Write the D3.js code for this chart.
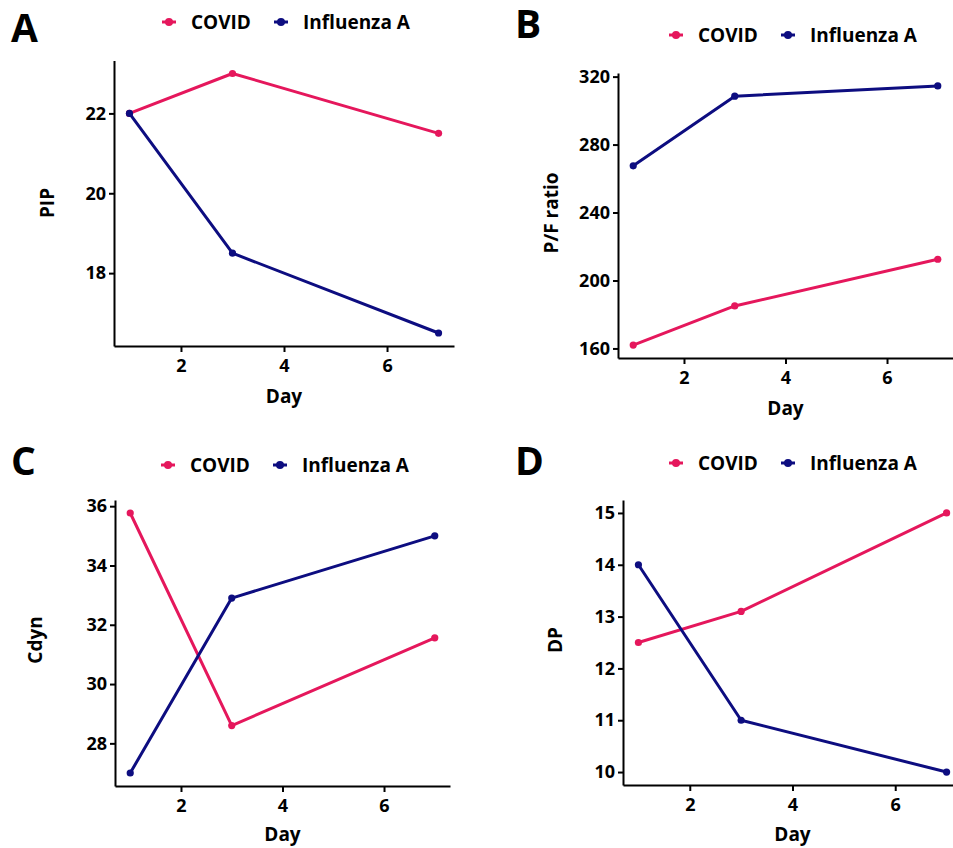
<!DOCTYPE html>
<html>
<head>
<meta charset="utf-8">
<script src="https://cdn.jsdelivr.net/npm/d3@7"></script>
<style>
  html, body { margin: 0; padding: 0; background: #fff; }
  svg { display: block; font-family: "Open Sans", Lato, sans-serif; }
</style>
</head>
<body>
<svg id="chart" width="953" height="848"></svg>
<script>
// ---------- data ----------
const days = [1, 3, 7];
const seriesNames = ["COVID", "Influenza A"];
const seriesColors = ["#E5175C", "#0D0D80"];

const pipCovid = [22.0, 23.0, 21.5];
const pipFlu   = [22.0, 18.5, 16.5];

const pfCovid = [162, 185, 212.5];
const pfFlu   = [267.5, 308.5, 314.5];

const cdynCovid = [35.77, 28.6, 31.56];
const cdynFlu   = [27.0, 32.9, 35.0];

const dpCovid = [12.5, 13.1, 15.0];
const dpFlu   = [14.0, 11.0, 10.0];

const xTicks = [2, 4, 6];
const pipTicks = [18, 20, 22];
const pfTicks = [160, 200, 240, 280, 320];
const cdynTicks = [28, 30, 32, 34, 36];
const dpTicks = [10, 11, 12, 13, 14, 15];

const panelLetters = ["A", "B", "C", "D"];
const yTitles = ["PIP", "P/F ratio", "Cdyn", "DP"];
const xTitle = "Day";

// ---------- layout (pixel boxes) ----------
const panels = [
  { letter: panelLetters[0], yTitle: yTitles[0], series: [pipCovid, pipFlu], ticks: pipTicks,
    x0: 114, x1: 454, yBot: 346, yTop: 60.5,
    letterX: 11, letterY: 42, legX: 169, legY: 22, yTitleX: 47, yTitleY: 203, xTitleY: 403 },
  { letter: panelLetters[1], yTitle: yTitles[1], series: [pfCovid, pfFlu], ticks: pfTicks,
    x0: 618, x1: 953, yBot: 358, yTop: 73,
    letterX: 515, letterY: 38, legX: 676, legY: 35, yTitleX: 551, yTitleY: 213, xTitleY: 415 },
  { letter: panelLetters[2], yTitle: yTitles[2], series: [cdynCovid, cdynFlu], ticks: cdynTicks,
    x0: 115, x1: 450, yBot: 786, yTop: 500,
    letterX: 11, letterY: 475, legX: 168, legY: 465, yTitleX: 35, yTitleY: 640, xTitleY: 841 },
  { letter: panelLetters[3], yTitle: yTitles[3], series: [dpCovid, dpFlu], ticks: dpTicks,
    x0: 623, x1: 962, yBot: 785, yTop: 500,
    letterX: 515, letterY: 475, legX: 676, legY: 463, yTitleX: 555, yTitleY: 640, xTitleY: 841 }
];

const svg = d3.select("#chart");
const tickFont = 18;
const labelFont = 19;

panels.forEach(p => {
  const g = svg.append("g");
  const all = p.series.flat();
  const lo = d3.min(all), hi = d3.max(all), r = hi - lo;
  const xMin = d3.min(days), xMax = d3.max(days), xr = xMax - xMin;

  const x = d3.scaleLinear().domain([xMin - 0.05 * xr, xMax + 0.05 * xr]).range([p.x0, p.x1]);
  const y = d3.scaleLinear().domain([lo - 0.05 * r, hi + 0.05 * r]).range([p.yBot, p.yTop]);

  // axes
  const xAxis = d3.axisBottom(x).tickValues(xTicks).tickFormat(d3.format("d"))
    .tickSize(6).tickPadding(7).tickSizeOuter(0);
  const yAxis = d3.axisLeft(y).tickValues(p.ticks).tickFormat(d3.format("d"))
    .tickSize(5).tickPadding(3).tickSizeOuter(0);

  const gx = g.append("g").attr("transform", `translate(0,${p.yBot})`).call(xAxis);
  const gy = g.append("g").attr("transform", `translate(${p.x0},0)`).call(yAxis);
  [gx, gy].forEach(a => {
    a.select(".domain").attr("stroke", "#000").attr("stroke-width", 2);
    a.selectAll(".tick line").attr("stroke", "#000").attr("stroke-width", 2);
    a.selectAll(".tick text").attr("fill", "#000").attr("font-size", tickFont)
      .attr("font-weight", 700).attr("font-family", "'Open Sans', sans-serif");
  });

  // lines + points
  const line = d3.line().x((d, i) => x(days[i])).y(d => y(d));
  p.series.forEach((vals, si) => {
    g.append("path").datum(vals).attr("d", line)
      .attr("fill", "none").attr("stroke", seriesColors[si]).attr("stroke-width", 3)
      .attr("stroke-linejoin", "round");
    g.selectAll(null).data(vals).enter().append("circle")
      .attr("cx", (d, i) => x(days[i])).attr("cy", d => y(d)).attr("r", 3.6)
      .attr("fill", seriesColors[si]);
  });

  // titles
  g.append("text").attr("x", (x(2) + x(6)) / 2).attr("y", p.xTitleY)
    .attr("text-anchor", "middle").attr("font-size", labelFont).attr("font-weight", 700)
    .text(xTitle);
  g.append("text").attr("transform", `translate(${p.yTitleX},${p.yTitleY}) rotate(-90)`)
    .attr("text-anchor", "middle").attr("dominant-baseline", "central")
    .attr("font-size", labelFont).attr("font-weight", 700).text(p.yTitle);

  // panel letter
  g.append("text").attr("x", p.letterX).attr("y", p.letterY)
    .attr("font-size", 39).attr("font-weight", 700).text(p.letter);

  // legend
  const legOffsets = [0, 112];
  seriesNames.forEach((nm, si) => {
    const kx = p.legX + legOffsets[si];
    const lg = g.append("g").attr("transform", `translate(${kx},${p.legY})`);
    lg.append("line").attr("x1", -7).attr("x2", 7).attr("y1", 0).attr("y2", 0)
      .attr("stroke", seriesColors[si]).attr("stroke-width", 3);
    lg.append("circle").attr("r", 4).attr("fill", seriesColors[si]);
    lg.append("text").attr("x", 22).attr("y", 0).attr("dominant-baseline", "central")
      .attr("font-size", labelFont).attr("font-weight", 700).text(nm);
  });
});
</script>
</body>
</html>
